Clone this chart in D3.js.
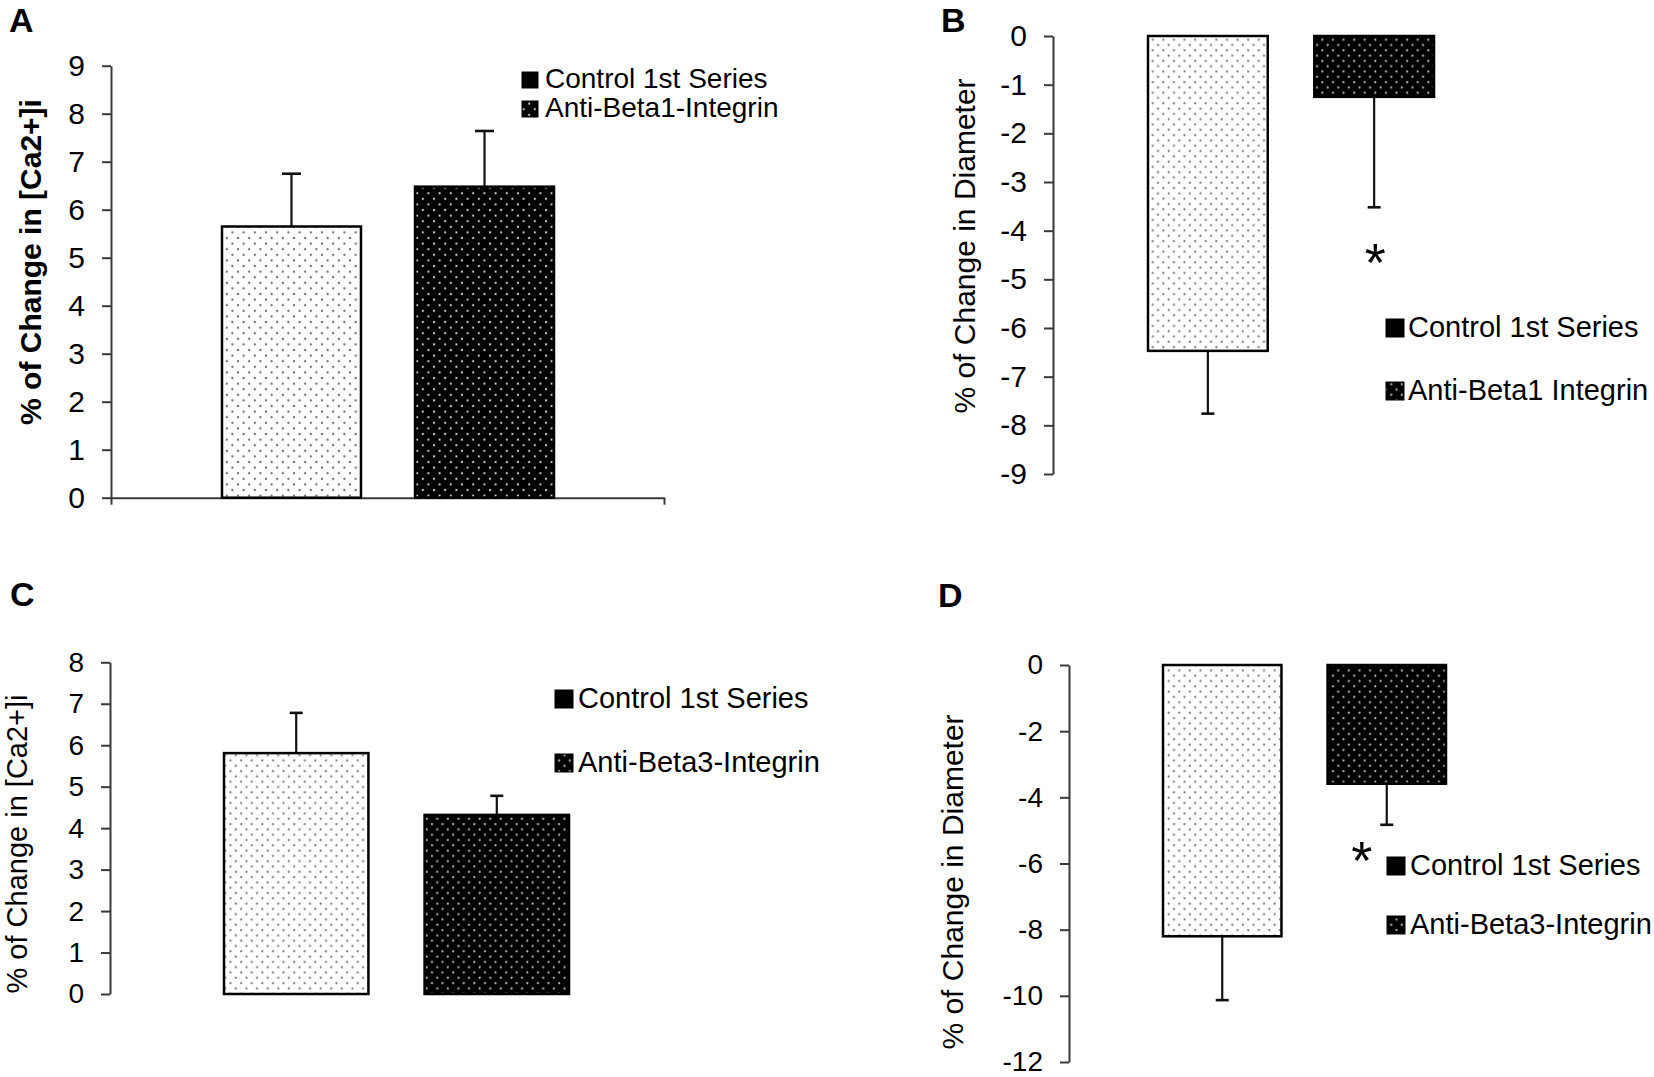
<!DOCTYPE html>
<html>
<head>
<meta charset="utf-8">
<script src="https://cdn.jsdelivr.net/npm/d3@7"></script>
<style>
  body { margin: 0; background: #fff; }
  text { font-family: "Liberation Sans", Arial, sans-serif; }
</style>
</head>
<body>
<svg width="1654" height="1077"></svg>
<script>
// ---- data ----
const seriesA = ['Control 1st Series', 'Anti-Beta1-Integrin'];
const meanA = [5.65, 6.48];
const semA = [1.10, 1.16];
const ticksA = [0, 1, 2, 3, 4, 5, 6, 7, 8, 9];

const seriesB = ['Control 1st Series', 'Anti-Beta1 Integrin'];
const meanB = [-6.47, -1.25];
const semB = [1.29, 2.27];
const ticksB = [0, -1, -2, -3, -4, -5, -6, -7, -8, -9];

const seriesC = ['Control 1st Series', 'Anti-Beta3-Integrin'];
const meanC = [5.81, 4.32];
const semC = [0.97, 0.46];
const ticksC = [0, 1, 2, 3, 4, 5, 6, 7, 8];

const seriesD = ['Control 1st Series', 'Anti-Beta3-Integrin'];
const meanD = [-8.2, -3.59];
const semD = [1.93, 1.24];
const ticksD = [0, -2, -4, -6, -8, -10, -12];

// asterisks: [series index, value where it sits]
const starB = [1, -4.4];
const starD = [1, -5.52];

var svg = d3.select('svg');

const defs = svg.append('defs');
function dotPattern(id, bg, dot, cell) {
  const p = defs.append('pattern').attr('id', id)
    .attr('patternUnits', 'userSpaceOnUse')
    .attr('width', cell).attr('height', cell);
  p.append('rect').attr('width', cell).attr('height', cell).attr('fill', bg);
  p.append('circle').attr('cx', cell * 0.25).attr('cy', cell * 0.25).attr('r', 1.1).attr('fill', dot);
  p.append('circle').attr('cx', cell * 0.75).attr('cy', cell * 0.75).attr('r', 1.1).attr('fill', dot);
}
dotPattern('lightA', '#fff', '#666', 11.2);
dotPattern('darkA', '#000', '#ccc', 11.2);
dotPattern('light', '#fff', '#777', 10.6);
dotPattern('dark', '#000', '#bbb', 10.6);

function panel(cfg) {
  const g = svg.append('g');
  const y = d3.scaleLinear().domain(cfg.domain).range(cfg.yRange);
  const x = d3.scaleBand().domain(cfg.series).range(cfg.barRange)
    .paddingInner(0.28).paddingOuter(0);

  // y axis (plain hyphen for negatives, like the original)
  const ax = g.append('g')
    .attr('transform', `translate(${cfg.axisX},0)`)
    .call(d3.axisLeft(y).tickValues(cfg.ticks).tickFormat(d => String(d))
      .tickSize(9).tickPadding(17).tickSizeOuter(0));
  ax.selectAll('path, line').attr('stroke', '#3a3a3a').attr('stroke-width', 2);
  ax.selectAll('text').attr('font-size', cfg.tickFont).attr('fill', '#000')
    .style('font-family', '"Liberation Sans", Arial, sans-serif');

  // category axis (panel A only)
  if (cfg.xAxisEnd) {
    const xs = d3.scaleLinear().domain([0, 1]).range([cfg.axisX, cfg.xAxisEnd]);
    const bx = g.append('g')
      .attr('transform', `translate(0,${y(0)})`)
      .call(d3.axisBottom(xs).tickValues([0, 1]).tickFormat('').tickSize(7).tickSizeOuter(0));
    bx.selectAll('path, line').attr('stroke', '#3a3a3a').attr('stroke-width', 2);
  }

  const data = cfg.series.map((s, i) => ({ s: s, v: cfg.mean[i], e: cfg.sem[i], i: i }));

  // error bars (drawn away from zero)
  const cap = cfg.cap;
  data.forEach(d => {
    const c = x(d.s) + x.bandwidth() / 2;
    const end = d.v + Math.sign(d.v) * d.e;
    g.append('line').attr('x1', c).attr('x2', c)
      .attr('y1', y(d.v)).attr('y2', y(end))
      .attr('stroke', '#111').attr('stroke-width', 2.2);
    g.append('line').attr('x1', c - cap / 2).attr('x2', c + cap / 2)
      .attr('y1', y(end)).attr('y2', y(end))
      .attr('stroke', '#111').attr('stroke-width', 2.6);
  });

  g.selectAll('rect.bar').data(data).enter().append('rect')
    .attr('class', 'bar')
    .attr('x', d => x(d.s))
    .attr('y', d => Math.min(y(d.v), y(0)))
    .attr('width', x.bandwidth())
    .attr('height', d => Math.abs(y(d.v) - y(0)))
    .attr('fill', d => d.i === 0 ? `url(#${cfg.light})` : `url(#${cfg.dark})`)
    .attr('stroke', '#000')
    .attr('stroke-width', 2.5);

  // axis title
  g.append('text')
    .attr('transform', `translate(${cfg.titleX},${cfg.titleY}) rotate(-90)`)
    .attr('text-anchor', 'middle')
    .attr('font-size', cfg.titleFont)
    .attr('font-weight', cfg.titleBold ? 'bold' : 'normal')
    .text(cfg.title);

  // panel letter
  g.append('text').attr('x', cfg.letter[1]).attr('y', cfg.letter[2])
    .attr('font-size', 34).attr('font-weight', 'bold').text(cfg.letter[0]);

  // legend
  const lg = cfg.legend;
  cfg.series.forEach((s, i) => {
    const by = lg.y[i];
    g.append('rect').attr('x', lg.x).attr('y', by - lg.sq)
      .attr('width', lg.sq).attr('height', lg.sq)
      .attr('fill', i === 0 ? '#000' : `url(#${cfg.dark})`)
      .attr('stroke', '#000').attr('stroke-width', 1);
    g.append('text').attr('x', lg.x + lg.sq + lg.gap).attr('y', by)
      .attr('font-size', lg.font).text(s);
  });

  if (cfg.star) {
    const s = cfg.series[cfg.star[0]];
    const fs = 54;
    g.append('text')
      .attr('x', x(s) + x.bandwidth() / 2 + cfg.starDx)
      .attr('y', y(cfg.star[1]) + fs * 0.58)
      .attr('text-anchor', 'middle')
      .attr('font-size', fs)
      .text('*');
  }
}

panel({
  series: seriesA, mean: meanA, sem: semA, ticks: ticksA,
  domain: [0, 9], yRange: [497.7, 65.7], barRange: [222, 554],
  axisX: 111, xAxisEnd: 664, tickFont: 30, cap: 19,
  light: 'lightA', dark: 'darkA',
  title: '% of Change in [Ca2+]i', titleBold: true, titleFont: 30, titleX: 41, titleY: 262,
  letter: ['A', 9, 32],
  legend: { x: 522, y: [88, 117], sq: 16, gap: 7, font: 28 }
});

panel({
  series: seriesB, mean: meanB, sem: semB, ticks: ticksB,
  domain: [-9, 0], yRange: [474, 36], barRange: [1148, 1434],
  axisX: 1053, tickFont: 30, cap: 13,
  light: 'light', dark: 'dark',
  title: '% of Change in Diameter', titleBold: false, titleFont: 30, titleX: 975, titleY: 246,
  letter: ['B', 941, 32],
  legend: { x: 1386, y: [337, 400], sq: 18, gap: 4, font: 29 },
  star: starB, starDx: 1
});

panel({
  series: seriesC, mean: meanC, sem: semC, ticks: ticksC,
  domain: [0, 8], yRange: [994, 662.3], barRange: [224, 569],
  axisX: 110, tickFont: 28, cap: 13,
  light: 'light', dark: 'dark',
  title: '% of Change in [Ca2+]i', titleBold: false, titleFont: 29, titleX: 27, titleY: 844,
  letter: ['C', 10, 606],
  legend: { x: 555, y: [708, 772], sq: 18, gap: 5, font: 29 }
});

panel({
  series: seriesD, mean: meanD, sem: semD, ticks: ticksD,
  domain: [-12, 0], yRange: [1062, 665], barRange: [1163, 1446],
  axisX: 1069, tickFont: 28, cap: 13,
  light: 'light', dark: 'dark',
  title: '% of Change in Diameter', titleBold: false, titleFont: 30, titleX: 963, titleY: 882,
  letter: ['D', 938, 607],
  legend: { x: 1387, y: [875, 934], sq: 18, gap: 5, font: 29 },
  star: starD, starDx: -25
});
</script>
</body>
</html>
